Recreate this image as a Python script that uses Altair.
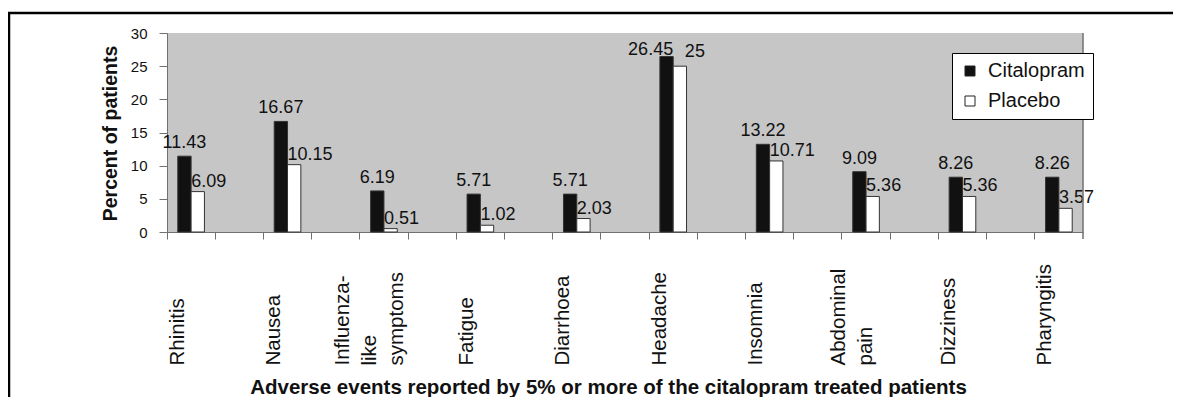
import json
import altair as alt
import pandas as pd

# ---- data ----
categories = ["Rhinitis", "Nausea", "Influenza-like symptoms", "Fatigue", "Diarrhoea",
              "Headache", "Insomnia", "Abdominal pain", "Dizziness", "Pharyngitis"]
tick_labels = [["Rhinitis"], ["Nausea"], ["Influenza-", "like", "symptoms"], ["Fatigue"],
               ["Diarrhoea"], ["Headache"], ["Insomnia"], ["Abdominal", "pain"],
               ["Dizziness"], ["Pharyngitis"]]
citalopram = [11.43, 16.67, 6.19, 5.71, 5.71, 26.45, 13.22, 9.09, 8.26, 8.26]
placebo = [6.09, 10.15, 0.51, 1.02, 2.03, 25, 10.71, 5.36, 5.36, 3.57]
series = ["Citalopram", "Placebo"]
y_ticks = [0, 5, 10, 15, 20, 25, 30]

# Excel-style category axis: an empty slot between two categories
slots = list(range(2 * len(categories) - 1))
slot_labels = [tick_labels[s // 2] if s % 2 == 0 else "" for s in slots]

rows = []
for i, cat in enumerate(categories):
    close = abs(citalopram[i] - placebo[i]) < 2
    for name, vals in (("Citalopram", citalopram), ("Placebo", placebo)):
        v = vals[i]
        rows.append({"slot": 2 * i, "category": cat, "series": name,
                     "value": v, "label": f"{v:g}", "close": close})
df = pd.DataFrame(rows)

W, H = 916, 199
FONT = "Liberation Sans"
LINE_H = 27

# multi-line labels are centred as a block on their category
label_offset = {
    "condition": [
        {"test": f"datum.value == {2 * i}", "value": -13.5 - (len(t) - 1) * LINE_H / 2}
        for i, t in enumerate(tick_labels) if len(t) > 1
    ],
    "value": -13.5,
}

x_enc = alt.X(
    "slot:O",
    scale=alt.Scale(domain=slots, paddingInner=0, paddingOuter=0),
    axis=alt.Axis(
        title="Adverse events reported by 5% or more of the citalopram treated patients",
        labelExpr=json.dumps(slot_labels) + "[datum.value]",
        bandPosition=0,
        labelAngle=270, labelAlign="left", labelBaseline="middle",
        labelPadding=126, labelOffset=label_offset, labelFontSize=20.5,
        labelLineHeight=LINE_H, labelColor="#111111", labelOverlap=False,
        domainColor="#707070", tickColor="#707070", tickSize=7,
        titleFontSize=20.5, titleFontWeight="bold", titleColor="#111111",
        titleX=441, titleY=155, titleAlign="center", titleBaseline="middle",
    ),
)
xo_enc = alt.XOffset("series:N",
                     scale=alt.Scale(domain=series, paddingOuter=0.81, paddingInner=0))
y_enc = alt.Y(
    "value:Q",
    scale=alt.Scale(domain=[0, 30], nice=False),
    axis=alt.Axis(
        title="Percent of patients", values=y_ticks, grid=False,
        labelFontSize=15, labelColor="#111111", labelPadding=12,
        domainColor="#707070", tickColor="#707070", tickSize=8,
        titleFontSize=19.5, titleFontWeight="bold", titleColor="#111111",
        titleX=-57, titleY=100, titleAngle=270, titleAlign="center",
        titleBaseline="middle",
    ),
)

bars = alt.Chart(df).mark_bar(stroke="#333333", strokeWidth=1).encode(
    x=x_enc, xOffset=xo_enc, y=y_enc,
    fill=alt.Fill(
        "series:N",
        scale=alt.Scale(domain=series, range=["#111111", "#ffffff"]),
        legend=alt.Legend(
            title=None, orient="none", legendX=785, legendY=20,
            fillColor="#ffffff", strokeColor="#000000", padding=8, rowPadding=10,
            symbolType="square", symbolSize=100, symbolStrokeColor="#222222",
            symbolStrokeWidth=1, labelFontSize=20, labelOffset=8,
            labelColor="#111111",
        ),
    ),
)

txt = dict(fontSize=18, color="#111111", baseline="middle")


def labels(series_name, close, **mark):
    return alt.Chart(df).transform_filter(
        (alt.datum.series == series_name) & (alt.datum.close == close)
    ).mark_text(**txt, **mark).encode(
        x=x_enc, xOffset=xo_enc, y=y_enc, text="label:N")


lab_c = labels("Citalopram", False, align="center", dy=-13)
lab_c_close = labels("Citalopram", True, align="right", dx=6.6, dy=-7)
lab_p = labels("Placebo", False, align="left", dx=-6.6, dy=-10)
lab_p_close = labels("Placebo", True, align="left", dx=5, dy=-14)

frame_df = pd.DataFrame({"k": [0]})
right_edge = alt.Chart(frame_df).mark_rule(color="#707070", strokeWidth=1.5).encode(
    x=alt.value(W), y=alt.value(0), y2=alt.value(H + 7))
outer_box = alt.Chart(frame_df).mark_rect(
    fillOpacity=0, stroke="#000000", strokeWidth=2.5).encode(
    x=alt.value(-158), x2=alt.value(W + 300), y=alt.value(-20), y2=alt.value(H + 400))

chart = alt.layer(bars, lab_c, lab_c_close, lab_p, lab_p_close, right_edge,
                  outer_box).properties(
    width=W, height=H,
    autosize=alt.AutoSizeParams(type="none"),
    padding={"left": 159, "top": 25, "right": 90, "bottom": 165},
).configure(font=FONT).configure_view(stroke=None, fill="#c6c6c6")

chart.save("out.html", embed_options={"renderer": "svg", "actions": False})
